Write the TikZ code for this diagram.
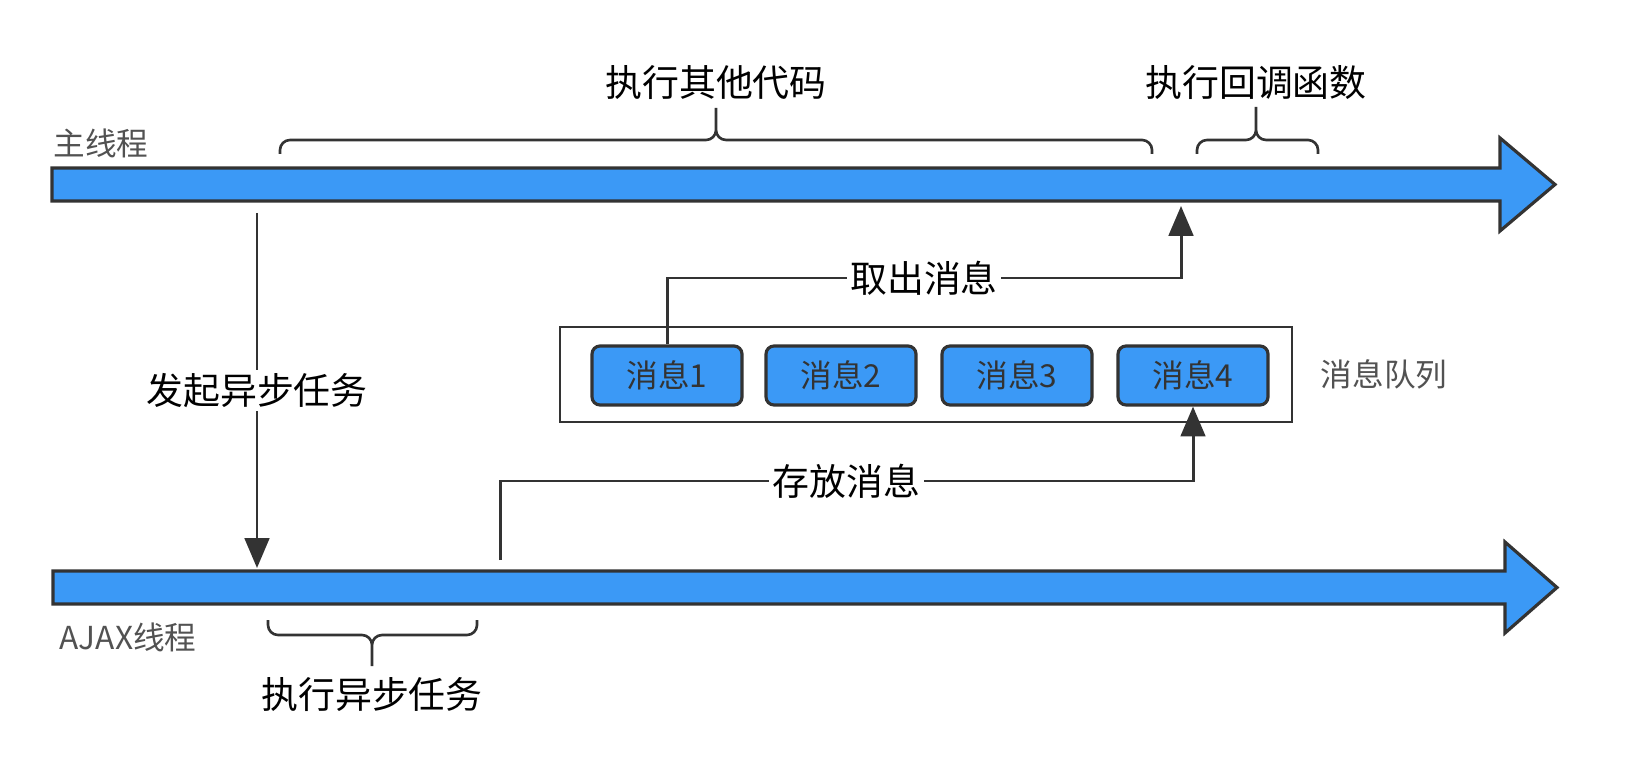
\documentclass[tikz,border=0pt]{standalone}
\usepackage{fontspec}
\setmainfont{Noto Sans CJK SC}
\usetikzlibrary{arrows.meta}
\definecolor{threadblue}{RGB}{59,153,246}
\definecolor{ink}{RGB}{51,51,51}

\begin{document}
\begin{tikzpicture}[x=0.02cm,y=-0.02cm,
  bar/.style={draw=ink,line width=1.8pt,fill=threadblue},
  msg/.style={draw=ink,line width=1.8pt,fill=threadblue,rounded corners=0.16cm,
    minimum width=3cm,minimum height=1.18cm,text=ink,font=\fontsize{18}{20}\selectfont},
  conn/.style={draw=ink,line width=1.7pt},
  tip/.style={-{Triangle[length=17pt,width=14pt]}},
  lbl/.style={fill=white,inner sep=2pt,font=\fontsize{21}{24}\selectfont},
  tag/.style={text=ink!85,font=\fontsize{18}{20}\selectfont},
  curly/.style={draw=ink,line width=1.5pt,rounded corners=0.2cm}]

  \useasboundingbox (0,0) rectangle (1628,766);

  % threads
  \draw[bar] (52,168) -- (1500,168) -- (1500,138) -- (1555,184.5) -- (1500,231) -- (1500,201) -- (52,201) -- cycle;
  \draw[bar] (53,571) -- (1505,571) -- (1505,542) -- (1557,587.5) -- (1505,633) -- (1505,604) -- (53,604) -- cycle;
  \node[tag] (main) at (101,143) {主线程};
  \node[tag] (ajax) at (128,637) {AJAX线程};

  % braces
  \draw[curly] (280,154) |- (716,140) -- (716,108) (1152,154) |- (716,140) -- (716,108);
  \draw[curly] (1197,154) |- (1256,140) -- (1256,107) (1318,154) |- (1256,140) -- (1256,107);
  \draw[curly] (268,620) |- (372,635) -- (372,666) (477,620) |- (372,635) -- (372,666);
  \node[lbl] (other) at (716,83) {执行其他代码};
  \node[lbl] (callback) at (1256,83) {执行回调函数};
  \node[lbl] (async) at (372,695) {执行异步任务};

  % message queue
  \draw[conn,line width=1.4pt] (560,327) rectangle (1292,422);
  \node[msg] (m1) at (667,375.5) {消息1};
  \node[msg] (m2) at (841,375.5) {消息2};
  \node[msg] (m3) at (1017,375.5) {消息3};
  \node[msg] (m4) at (1193,375.5) {消息4};
  \node[tag] (queue) at (1384,374) {消息队列};

  % connectors
  \coordinate (ask) at (257,213);
  \coordinate (askend) at (257,568);
  \draw[conn,tip] (ask) -- node[lbl] {发起异步任务} (askend);

  \coordinate (fetchturn) at (667,278);
  \coordinate (fetch) at (1181,206);
  \draw[conn,tip] (m1.north) -- (fetchturn) -| node[lbl,pos=.25] {取出消息} (fetch);

  \coordinate (store) at (500,560);
  \coordinate (storeturn) at (500,481);
  \draw[conn,tip] (store) -- (storeturn) -| node[lbl,pos=.25] {存放消息} (m4.south);
\end{tikzpicture}
\end{document}
